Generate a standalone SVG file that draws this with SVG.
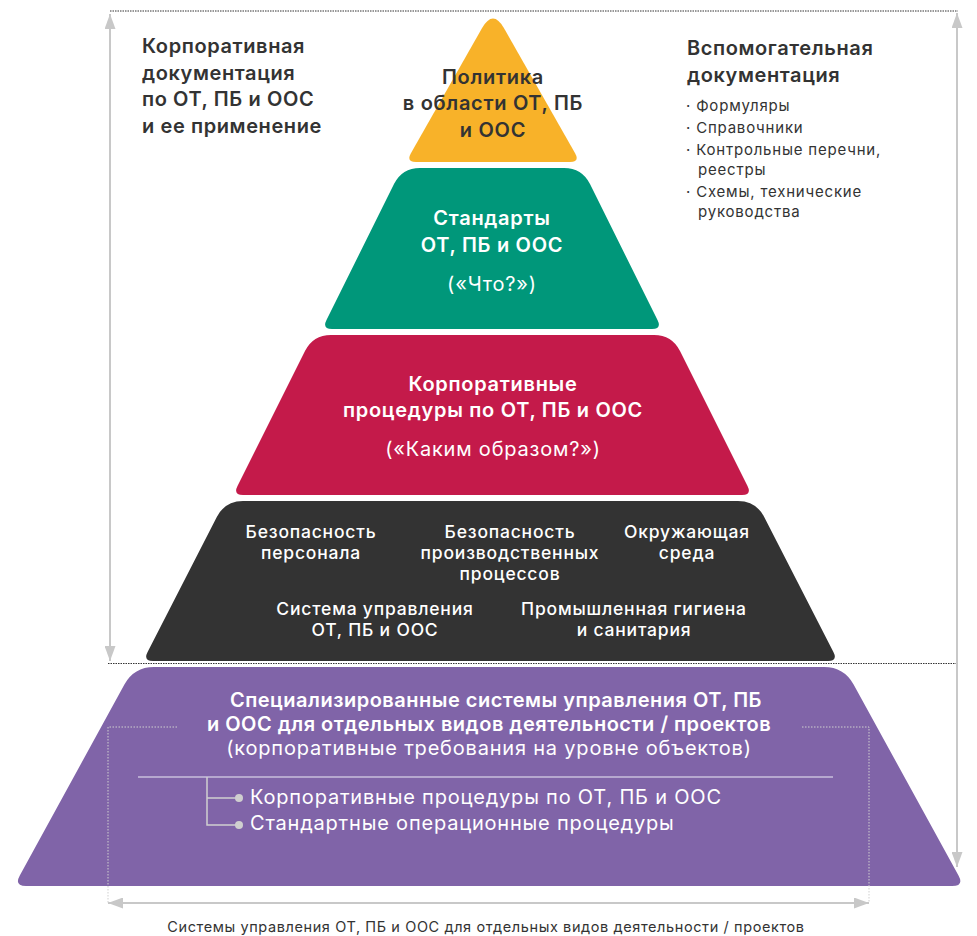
<svg xmlns="http://www.w3.org/2000/svg" width="977" height="936" viewBox="0 0 977 936">
<style>
text{font-family:Inter,"Open Sans","Liberation Sans",sans-serif}
.h{font-size:20px;font-weight:600;text-anchor:middle;letter-spacing:0.7px}
.hr{font-size:20px;font-weight:400;text-anchor:middle;letter-spacing:0.8px}
.pb{font-size:20px;font-weight:600;text-anchor:middle;letter-spacing:0.5px}
.w{fill:#ffffff}
.d{fill:#333333}
.t{font-size:20px;font-weight:600;fill:#333333;letter-spacing:0.6px}
.b{font-size:15px;fill:#333333;letter-spacing:0.8px}
.s{font-size:17.5px;font-weight:500;fill:#ffffff;text-anchor:middle;letter-spacing:0.8px}
.p{font-size:20px;font-weight:400;fill:#ffffff;letter-spacing:0.8px}
.g{stroke:#c8c8c8;stroke-width:2;fill:none}
.dot{stroke:#333333;stroke-width:1;stroke-dasharray:1.5 1;fill:none}
.ldot{stroke:#cfcfcf;stroke-width:1;stroke-dasharray:1.5 1.5;fill:none}
</style>
<defs>
<marker id="ah" viewBox="0 0 15 11" refX="15" refY="5.5" markerWidth="15" markerHeight="11" markerUnits="userSpaceOnUse" orient="auto-start-reverse">
<path d="M0,0 L15,5.5 L0,11 Z" fill="#c8c8c8"/>
</marker>
</defs>
<rect width="977" height="936" fill="#ffffff"/>

<g id="connectors">
<line class="dot" x1="110" y1="11" x2="958" y2="11"/>
<line class="dot" x1="108" y1="663.5" x2="958" y2="663.5"/>
<line class="g" x1="110" y1="14" x2="110" y2="661" marker-start="url(#ah)" marker-end="url(#ah)"/>
<line class="g" x1="957" y1="13" x2="957" y2="867" marker-start="url(#ah)" marker-end="url(#ah)"/>
<line class="g" x1="108" y1="903" x2="869" y2="903" marker-start="url(#ah)" marker-end="url(#ah)"/>
</g>

<g id="corporate-docs">
<text class="t" x="142" y="53">Корпоративная</text>
<text class="t" x="142" y="80">документация</text>
<text class="t" x="142" y="106">по ОТ, ПБ и ООС</text>
<text class="t" x="142" y="133">и ее применение</text>
</g>

<g id="aux-docs">
<text class="t" x="687" y="55">Вспомогательная</text>
<text class="t" x="687" y="82">документация</text>
<text class="b" x="686" y="111">· Формуляры</text>
<text class="b" x="686" y="133">· Справочники</text>
<text class="b" x="686" y="155">· Контрольные перечни,</text>
<text class="b" x="698" y="175">реестры</text>
<text class="b" x="686" y="197">· Схемы, технические</text>
<text class="b" x="698" y="217">руководства</text>
</g>

<g id="policy">
<path fill="#F8B229" d="M482.1,28.1 Q493,9 503.9,28.1 L575.1,153.3 Q580,162 570,162 L416,162 Q406,162 410.9,153.3 Z"/>
<text class="h d" x="493" y="84">Политика</text>
<text class="h d" x="493" y="110">в области ОТ, ПБ</text>
<text class="h d" x="493" y="137">и ООС</text>
</g>

<g id="standards">
<path fill="#00977A" d="M420,168 L564,168 Q582,168 590,184.1 L657.5,320 Q662,329 652,329 L332,329 Q322,329 326.5,320 L394,184.1 Q402,168 420,168 Z"/>
<text class="h w" x="492" y="225">Стандарты</text>
<text class="h w" x="492" y="252">ОТ, ПБ и ООС</text>
<text class="hr w" x="492" y="291">(«Что?»)</text>
</g>

<g id="procedures">
<path fill="#C41A4A" d="M331,335 L654,335 Q672,335 680,351.1 L747.5,486.1 Q752,495 742,495 L243,495 Q233,495 237.5,486.1 L305,351.1 Q313,335 331,335 Z"/>
<text class="h w" x="493" y="391">Корпоративные</text>
<text class="h w" x="493" y="417">процедуры по ОТ, ПБ и ООС</text>
<text class="hr w" x="493" y="456">(«Каким образом?»)</text>
</g>

<g id="domains">
<path fill="#333333" d="M243,501 L738,501 Q756,501 764.2,517 L833.4,652.1 Q838,661 828,661 L153,661 Q143,661 147.6,652.1 L216.8,517 Q225,501 243,501 Z"/>
<text class="s" x="311" y="538">Безопасность</text>
<text class="s" x="311" y="559">персонала</text>
<text class="s" x="510" y="538">Безопасность</text>
<text class="s" x="510" y="559">производственных</text>
<text class="s" x="510" y="580">процессов</text>
<text class="s" x="687" y="538">Окружающая</text>
<text class="s" x="687" y="559">среда</text>
<text class="s" x="375" y="615">Система управления</text>
<text class="s" x="375" y="636">ОТ, ПБ и ООС</text>
<text class="s" x="634" y="615">Промышленная гигиена</text>
<text class="s" x="634" y="636">и санитария</text>
</g>

<g id="specialized">
<path fill="#8064A8" d="M154,667 L824,667 Q844,667 853.6,684.5 L958.5,875.5 Q964.3,886 952,886 L26,886 Q14,886 19.8,875.5 L124.4,684.5 Q134,667 154,667 Z"/>
<text class="pb w" x="496" y="707">Специализированные системы управления ОТ, ПБ</text>
<text class="pb w" x="489" y="731">и ООС для отдельных видов деятельности / проектов</text>
<text class="hr w" x="489" y="755">(корпоративные требования на уровне объектов)</text>
<line x1="138" y1="777" x2="833" y2="777" stroke="#c9bfdc" stroke-width="1.5"/>
<path d="M207,777 L207,825 L238,825 M207,798 L238,798" stroke="#cfcfcf" stroke-width="1.5" fill="none"/>
<circle cx="239" cy="798" r="4" fill="#cfcfcf"/>
<circle cx="239" cy="825" r="4" fill="#cfcfcf"/>
<text class="p" x="250" y="804">Корпоративные процедуры по ОТ, ПБ и ООС</text>
<text class="p" x="250" y="830">Стандартные операционные процедуры</text>
</g>

<g id="bracket">
<path class="ldot" d="M177,727 L108,727 L108,903"/>
<path class="ldot" d="M802,727 L869,727 L869,903"/>
</g>

<g id="bottom-label">
<text x="486" y="932" font-size="14.5" fill="#333333" text-anchor="middle" letter-spacing="0.6">Системы управления ОТ, ПБ и ООС для отдельных видов деятельности / проектов</text>
</g>
</svg>
